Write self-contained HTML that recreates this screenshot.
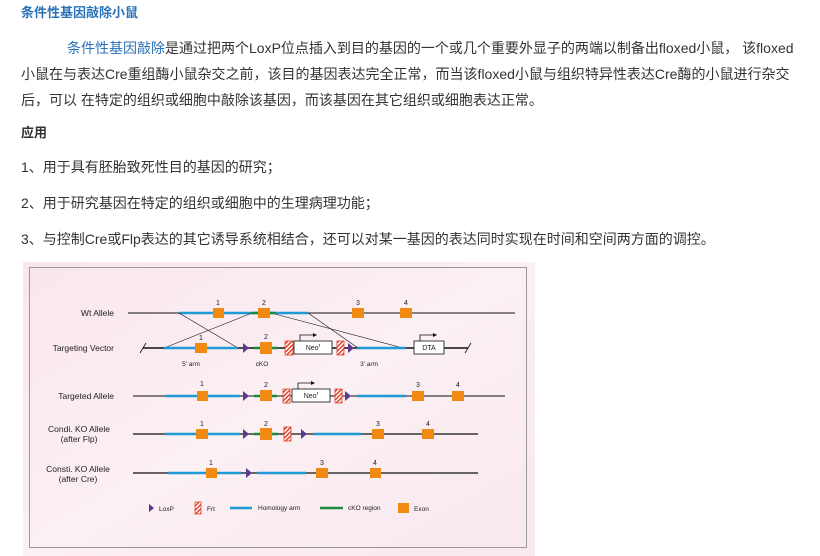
<!DOCTYPE html>
<html><head><meta charset="utf-8"><style>
body{margin:0;width:820px;height:556px;background:#fff;position:relative;overflow:hidden;font-family:"Liberation Sans","Noto Sans CJK SC",sans-serif;color:#333;}
.t{position:absolute;white-space:nowrap;font-size:14px;line-height:18px;}
</style></head><body>
<div class="t" style="left:21px;top:4px;font-size:13px;font-weight:bold;color:#2a72b8;">条件性基因敲除小鼠</div>
<div class="t" style="left:67px;top:39px;"><span style="color:#2a72b8">条件性基因敲除</span>是通过把两个LoxP位点插入到目的基因的一个或几个重要外显子的两端以制备出floxed小鼠， 该floxed</div>
<div class="t" style="left:21px;top:65px;">小鼠在与表达Cre重组酶小鼠杂交之前，该目的基因表达完全正常，而当该floxed小鼠与组织特异性表达Cre酶的小鼠进行杂交</div>
<div class="t" style="left:21px;top:91px;">后，可以 在特定的组织或细胞中敲除该基因，而该基因在其它组织或细胞表达正常。</div>
<div class="t" style="left:21px;top:124px;font-size:13px;font-weight:bold;">应用</div>
<div class="t" style="left:21px;top:158px;">1、用于具有胚胎致死性目的基因的研究；</div>
<div class="t" style="left:21px;top:194px;">2、用于研究基因在特定的组织或细胞中的生理病理功能；</div>
<div class="t" style="left:21px;top:230px;">3、与控制Cre或Flp表达的其它诱导系统相结合，还可以对某一基因的表达同时实现在时间和空间两方面的调控。</div>

<svg style="position:absolute;left:0;top:0" width="820" height="556" font-family="Liberation Sans, sans-serif">
<defs>
<linearGradient id="bg" x1="0" y1="0" x2="1" y2="1">
<stop offset="0" stop-color="#f9e6ee"/><stop offset="0.5" stop-color="#fbf0f4"/><stop offset="1" stop-color="#f8e8ef"/></linearGradient>
<pattern id="fr" width="3" height="3" patternUnits="userSpaceOnUse" patternTransform="rotate(45)"><rect width="3" height="3" fill="#fff"/><rect width="1.5" height="3" fill="#e2442c"/></pattern>
<symbol id="lox" viewBox="0 0 6 10"><polygon points="0,0 6,5 0,10" fill="#5b3a8e"/></symbol>
</defs>
<rect x="23" y="262" width="512" height="294" fill="url(#bg)"/>
<rect x="29.5" y="267.5" width="497" height="280" fill="none" stroke="#999" stroke-width="1"/>
<g font-size="8.5" fill="#222" text-anchor="end">
<text x="114" y="316">Wt Allele</text>
<text x="114" y="351">Targeting Vector</text>
<text x="114" y="399">Targeted Allele</text>
<text x="79" y="432" text-anchor="middle">Condi. KO Allele</text>
<text x="79" y="442" text-anchor="middle">(after  Flp)</text>
<text x="78" y="472" text-anchor="middle">Consti. KO Allele</text>
<text x="78" y="482" text-anchor="middle">(after  Cre)</text>
</g>
<g font-size="7" fill="#222" text-anchor="middle">
<!-- wt -->
<line x1="128" y1="313" x2="515" y2="313" stroke="#111" stroke-width="1"/>
<line x1="179" y1="313" x2="308" y2="313" stroke="#1e9ad6" stroke-width="2.5"/>
<line x1="252" y1="313" x2="276" y2="313" stroke="#1a8a3c" stroke-width="2.5"/>
<rect x="213" y="308" width="11" height="10" fill="#f08a12"/><text x="218" y="305">1</text>
<rect x="258" y="308" width="12" height="10" fill="#f08a12"/><text x="264" y="305">2</text>
<rect x="352" y="308" width="12" height="10" fill="#f08a12"/><text x="358" y="305">3</text>
<rect x="400" y="308" width="12" height="10" fill="#f08a12"/><text x="406" y="305">4</text>
<g stroke="#111" stroke-width="0.6">
<line x1="179" y1="313" x2="238" y2="348"/><line x1="164" y1="348" x2="252" y2="313"/>
<line x1="275" y1="314" x2="403" y2="348"/><line x1="308" y1="313" x2="358" y2="348"/></g>
<!-- vector -->
<line x1="143" y1="348" x2="468" y2="348" stroke="#111" stroke-width="1.6"/>
<line x1="140" y1="353" x2="146" y2="343" stroke="#111" stroke-width="0.8"/>
<line x1="465" y1="353" x2="471" y2="343" stroke="#111" stroke-width="0.8"/>
<line x1="164" y1="348" x2="238" y2="348" stroke="#1e9ad6" stroke-width="2.5"/>
<rect x="195" y="343" width="12" height="10" fill="#f08a12"/><text x="201" y="340">1</text>
<use href="#lox" x="243" y="343" width="6" height="10"/>
<line x1="254" y1="348" x2="278" y2="348" stroke="#1a8a3c" stroke-width="2.5"/>
<rect x="260" y="342" width="12" height="12" fill="#f08a12"/><text x="266" y="339">2</text>
<rect x="285" y="341" width="8" height="14" fill="url(#fr)" stroke="#e2442c" stroke-width="0.8"/>
<rect x="294" y="341" width="38" height="13" fill="#fff" stroke="#111" stroke-width="0.8"/><text x="313" y="350">Neo<tspan font-size="5" dy="-3">r</tspan></text>
<polyline points="300,341 300,335 313,335" fill="none" stroke="#111" stroke-width="0.8"/><polygon points="313,333 317,335 313,337" fill="#111"/>
<rect x="337" y="341" width="7" height="14" fill="url(#fr)" stroke="#e2442c" stroke-width="0.8"/>
<use href="#lox" x="348" y="343" width="6" height="10"/>
<line x1="357" y1="348" x2="406" y2="348" stroke="#1e9ad6" stroke-width="2.5"/>
<rect x="414" y="341" width="30" height="13" fill="#fff" stroke="#111" stroke-width="0.8"/><text x="429" y="350">DTA</text>
<polyline points="420,341 420,335 433,335" fill="none" stroke="#111" stroke-width="0.8"/><polygon points="433,333 437,335 433,337" fill="#111"/>
<text x="191" y="366" font-size="6.5">5' arm</text><text x="262" y="366" font-size="6.5">cKO</text><text x="369" y="366" font-size="6.5">3' arm</text>
<!-- targeted -->
<line x1="133" y1="396" x2="505" y2="396" stroke="#111" stroke-width="1"/>
<line x1="165" y1="396" x2="240" y2="396" stroke="#1e9ad6" stroke-width="2.5"/>
<rect x="197" y="391" width="11" height="10" fill="#f08a12"/><text x="202" y="386">1</text>
<use href="#lox" x="243" y="391" width="6" height="10"/>
<line x1="254" y1="396" x2="277" y2="396" stroke="#1a8a3c" stroke-width="2.5"/>
<rect x="260" y="390" width="12" height="11" fill="#f08a12"/><text x="266" y="387">2</text>
<rect x="283" y="389" width="7" height="14" fill="url(#fr)" stroke="#e2442c" stroke-width="0.8"/>
<rect x="292" y="389" width="38" height="13" fill="#fff" stroke="#111" stroke-width="0.8"/><text x="311" y="398">Neo<tspan font-size="5" dy="-3">r</tspan></text>
<polyline points="298,389 298,383 311,383" fill="none" stroke="#111" stroke-width="0.8"/><polygon points="311,381 315,383 311,385" fill="#111"/>
<rect x="335" y="389" width="7" height="14" fill="url(#fr)" stroke="#e2442c" stroke-width="0.8"/>
<use href="#lox" x="345" y="391" width="6" height="10"/>
<line x1="357" y1="396" x2="406" y2="396" stroke="#1e9ad6" stroke-width="2.5"/>
<rect x="412" y="391" width="12" height="10" fill="#f08a12"/><text x="418" y="387">3</text>
<rect x="452" y="391" width="12" height="10" fill="#f08a12"/><text x="458" y="387">4</text>
<!-- condi -->
<line x1="133" y1="434" x2="478" y2="434" stroke="#111" stroke-width="1.3"/>
<line x1="165" y1="434" x2="240" y2="434" stroke="#1e9ad6" stroke-width="2.5"/>
<rect x="196" y="429" width="12" height="10" fill="#f08a12"/><text x="202" y="426">1</text>
<use href="#lox" x="243" y="429" width="6" height="10"/>
<line x1="254" y1="434" x2="278" y2="434" stroke="#1a8a3c" stroke-width="2.5"/>
<rect x="260" y="428" width="12" height="12" fill="#f08a12"/><text x="266" y="426">2</text>
<rect x="284" y="427" width="7" height="14" fill="url(#fr)" stroke="#e2442c" stroke-width="0.8"/>
<use href="#lox" x="301" y="429" width="6" height="10"/>
<line x1="313" y1="434" x2="361" y2="434" stroke="#1e9ad6" stroke-width="2.5"/>
<rect x="372" y="429" width="12" height="10" fill="#f08a12"/><text x="378" y="426">3</text>
<rect x="422" y="429" width="12" height="10" fill="#f08a12"/><text x="428" y="426">4</text>
<!-- consti -->
<line x1="133" y1="473" x2="478" y2="473" stroke="#111" stroke-width="1.3"/>
<line x1="168" y1="473" x2="241" y2="473" stroke="#1e9ad6" stroke-width="2.5"/>
<rect x="206" y="468" width="11" height="10" fill="#f08a12"/><text x="211" y="465">1</text>
<use href="#lox" x="246" y="468" width="6" height="10"/>
<line x1="257" y1="473" x2="306" y2="473" stroke="#1e9ad6" stroke-width="2.5"/>
<rect x="316" y="468" width="12" height="10" fill="#f08a12"/><text x="322" y="465">3</text>
<rect x="370" y="468" width="11" height="10" fill="#f08a12"/><text x="375" y="465">4</text>
</g>
<!-- legend -->
<g font-size="6.5" fill="#222">
<use href="#lox" x="149" y="503" width="5" height="10"/><text x="159" y="511">LoxP</text>
<rect x="195" y="502" width="6" height="12" fill="url(#fr)" stroke="#e2442c" stroke-width="0.8"/><text x="207" y="511">Frt</text>
<line x1="230" y1="508" x2="252" y2="508" stroke="#1e9ad6" stroke-width="2.5"/><text x="258" y="510">Homology arm</text>
<line x1="320" y1="508" x2="343" y2="508" stroke="#1a8a3c" stroke-width="2.5"/><text x="348" y="510">cKO region</text>
<rect x="398" y="503" width="11" height="10" fill="#f08a12"/><text x="414" y="511">Exon</text>
</g>
</svg>
</body></html>
